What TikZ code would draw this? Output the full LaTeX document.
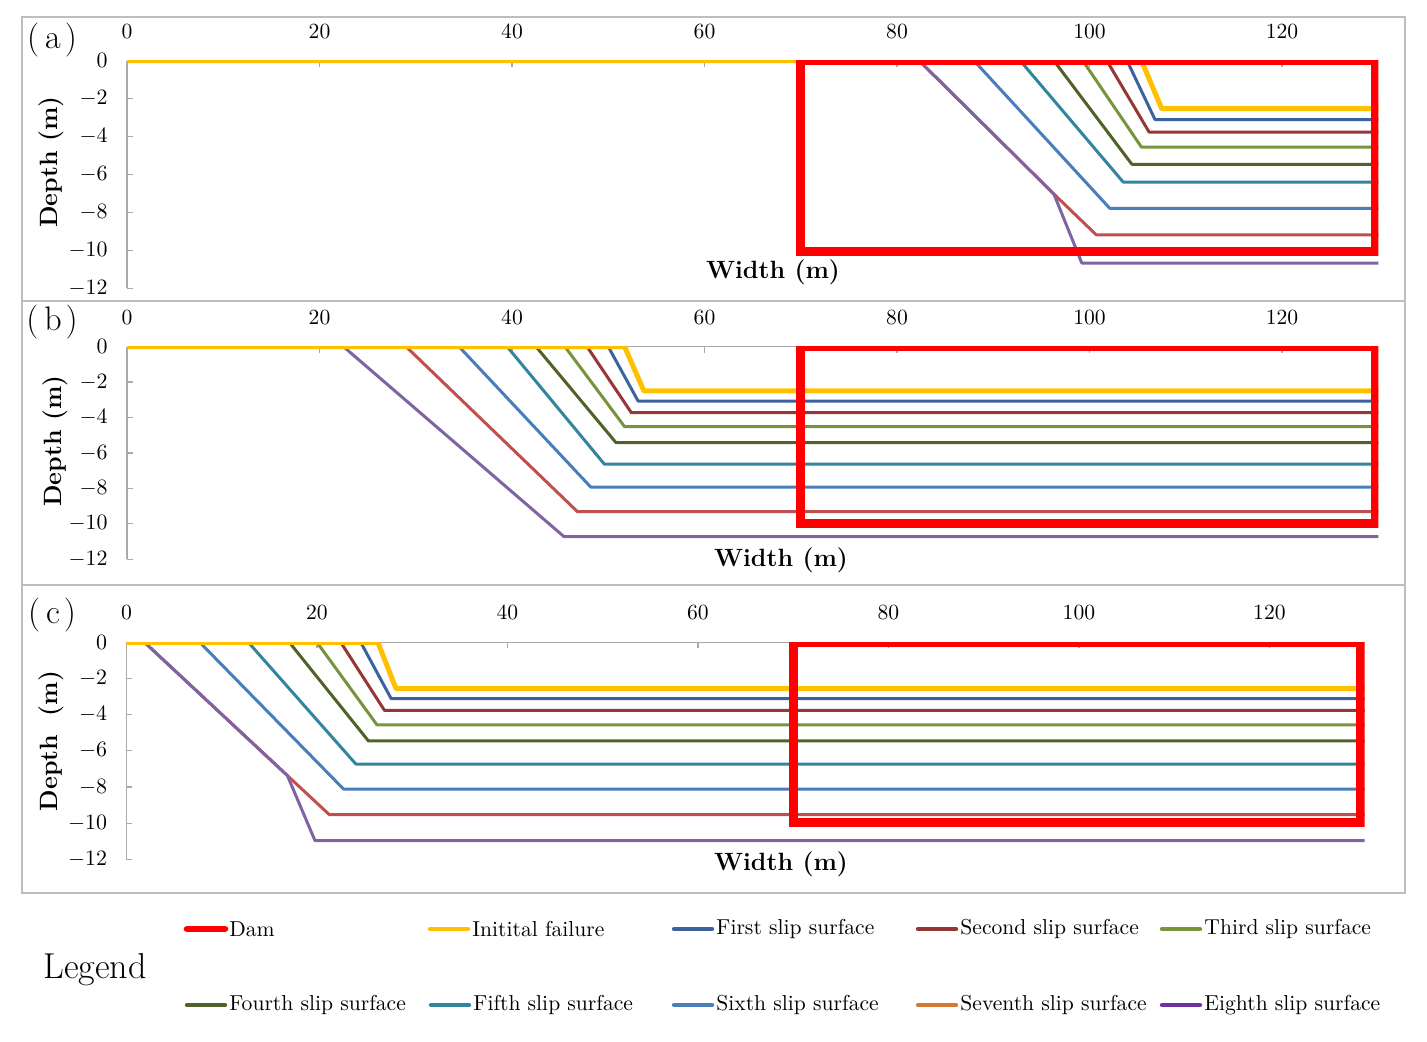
\documentclass[tikz,border=0pt]{standalone}
\usepackage{xcolor}
\definecolor{damred}{RGB}{255,0,0}
\definecolor{inityellow}{RGB}{255,192,0}
\definecolor{slipone}{RGB}{58,98,158}
\definecolor{sliptwo}{RGB}{150,55,53}
\definecolor{slipthree}{RGB}{119,147,60}
\definecolor{slipfour}{RGB}{79,98,40}
\definecolor{slipfive}{RGB}{49,133,156}
\definecolor{slipsix}{RGB}{74,126,187}
\definecolor{slipseven}{RGB}{192,80,77}
\definecolor{slipeight}{RGB}{128,100,162}
\definecolor{legseven}{RGB}{214,120,48}
\definecolor{legeight}{RGB}{112,48,160}
\definecolor{framegray}{RGB}{190,190,190}
\definecolor{axisgray}{RGB}{170,170,170}
\usepackage{tikz}
\usetikzlibrary{positioning}
\newcommand{\plotright}{130}
\newcommand{\plotaxes}[1]{%
    \draw[axisline] (0,0) -- (\plotright,0) (0,0) -- (0,-12);
    \foreach \xt in {0,20,...,120} {
        \draw[axisline] (\xt,0) -- ++(0,-3pt);
        \node[ticklabel, yshift=14.75pt] (#1x\xt) at (\xt,0) {\xt};
    }
    \foreach \yt in {0,-2,...,-12} {
        \draw[axisline] (0,\yt) -- ++(3pt,0);
        \node[ticklabel, anchor=east, xshift=-9.5pt] (#1y\yt) at (0,\yt) {$\yt$};
    }
}
\tikzset{
    panelframe/.style={draw=framegray, line width=0.75pt},
    axisline/.style={draw=axisgray, line width=0.6pt},
    ticklabel/.style={inner sep=0pt, font=\fontsize{10.8}{12}\selectfont},
    axistitle/.style={inner sep=0pt, font=\fontsize{12.5}{14}\selectfont\bfseries},
    panellabel/.style={inner sep=0pt, font=\fontsize{17}{19}\selectfont},
    slip/.style={line width=1.5pt, line join=round},
    initial/.style={slip, inityellow, line width=2.5pt},
    dam/.style={damred, line width=4.5pt, line join=miter},
    legtext/.style={anchor=west, inner sep=0pt, font=\fontsize{10.8}{12}\selectfont},
    legline/.style={line cap=round, line width=2.2pt},
    legtitle/.style={inner sep=0pt, font=\fontsize{18}{20}\selectfont}
}
\begin{document}
\begin{tikzpicture}[x=0.5pt, y=-0.5pt]
    \useasboundingbox (0,0) rectangle (1427,1042);
    % frames round the three panels
    \foreach \ptop/\pbot in {17/301, 301/585, 585/893}
        \draw[panelframe] (22,\ptop) rectangle (1405,\pbot);

    % (a)
    \begin{scope}[xshift=63.5pt, yshift=-30.35pt, x=4.8125pt, y=9.485pt]
        \plotaxes{a}
        \begin{scope}
            \clip (0,0) rectangle (\plotright,-12.5);
            \draw[slip, slipseven] (82.3,0) -- (96.3,-7.03) -- (100.7,-9.18) -- (\plotright,-9.18);
            \draw[slip, slipeight] (82.3,0) -- (96.3,-7.03) -- (99.2,-10.67) -- (\plotright,-10.67);
            \foreach \col/\xa/\xb/\dd in {slipsix/88.0/102.1/7.78, slipfive/92.8/103.5/6.4,
                slipfour/96.3/104.4/5.46, slipthree/99.3/105.4/4.56,
                sliptwo/101.8/106.2/3.77, slipone/103.9/106.8/3.1}
                \draw[slip, \col] (\xa,0) -- (\xb,-\dd) -- (\plotright,-\dd);
            \draw[initial] (0,0) -- (105.4,0) -- (107.5,-2.53) -- (\plotright,-2.53);
            \draw[dam] (70,0) rectangle (129.7,-10.05);
        \end{scope}
    \end{scope}

    % (b)
    \begin{scope}[xshift=63.5pt, yshift=-173.35pt, x=4.8125pt, y=8.85pt]
        \plotaxes{b}
        \begin{scope}
            \clip (0,0) rectangle (\plotright,-12.5);
            \foreach \col/\xa/\xb/\dd in {slipseven/29.0/46.8/9.32, slipeight/22.5/45.4/10.73,
                slipsix/34.5/48.2/7.94, slipfive/39.5/49.6/6.64,
                slipfour/42.5/50.8/5.42, slipthree/45.5/51.7/4.52,
                sliptwo/47.8/52.4/3.73, slipone/50.0/53.1/3.07}
                \draw[slip, \col] (\xa,0) -- (\xb,-\dd) -- (\plotright,-\dd);
            \draw[initial] (0,0) -- (51.7,0) -- (53.7,-2.5) -- (\plotright,-2.5);
            \draw[dam] (70,0) rectangle (129.7,-9.98);
        \end{scope}
    \end{scope}

    % (c)
    \begin{scope}[xshift=63.2pt, yshift=-321.15pt, x=4.7625pt, y=9.04pt]
        \plotaxes{c}
        \begin{scope}
            \clip (0,0) rectangle (\plotright,-12.5);
            \draw[slip, slipseven] (1.9,0) -- (16.9,-7.37) -- (21.3,-9.53) -- (\plotright,-9.53);
            \draw[slip, slipeight] (1.9,0) -- (16.9,-7.37) -- (19.8,-10.97) -- (\plotright,-10.97);
            \foreach \col/\xa/\xb/\dd in {slipsix/7.7/22.8/8.12, slipfive/12.8/24.1/6.74,
                slipfour/17.1/25.4/5.45, slipthree/20.0/26.3/4.56,
                sliptwo/22.5/27.1/3.77, slipone/24.6/27.8/3.12}
                \draw[slip, \col] (\xa,0) -- (\xb,-\dd) -- (\plotright,-\dd);
            \draw[initial] (0,0) -- (26.4,0) -- (28.3,-2.56) -- (\plotright,-2.56);
            \draw[dam] (70,0) rectangle (129.6,-9.98);
        \end{scope}
    \end{scope}

    % titles
    \node[panellabel] (alabel) at (52,40) {(\hspace{3pt}a\hspace{2pt})};
    \node[panellabel] (blabel) at (52,322) {(\hspace{3pt}b\hspace{2pt})};
    \node[panellabel] (clabel) at (52,615) {(\hspace{3pt}c\hspace{2pt})};
    \node[axistitle, rotate=90] (adepth) at (51,162) {Depth (m)};
    \node[axistitle, rotate=90] (bdepth) at (55,441) {Depth (m)};
    \node[axistitle, rotate=90] (cdepth) at (51,741) {Depth\ \ (m)};
    \node[axistitle] (awidth) at (773,272) {Width (m)};
    \node[axistitle] (bwidth) at (781,560) {Width (m)};
    \node[axistitle] (cwidth) at (781,864) {Width (m)};

    % legend
    \node[legtitle] (legendtitle) at (95,970) {Legend};
    \foreach \lx/\ly/\col/\lw/\txt [count=\i] in {
        229/929/damred/3.3pt/Dam,
        472/929/inityellow/2.2pt/Initital failure,
        716/929/slipone/2.2pt/First slip surface,
        960/929/sliptwo/2.2pt/Second slip surface,
        1204/929/slipthree/2.2pt/Third slip surface,
        229/1005/slipfour/2.2pt/Fourth slip surface,
        473/1005/slipfive/2.2pt/Fifth slip surface,
        716/1005/slipsix/2.2pt/Sixth slip surface,
        960/1005/legseven/2.2pt/Seventh slip surface,
        1204/1005/legeight/2.2pt/Eighth slip surface}
    {
        \node[legtext] (leg\i) at (\lx,\ly) {\txt};
        \draw[legline, \col, line width=\lw] (leg\i.west) ++(-4,0) -- ++(-38,0);
    }
\end{tikzpicture}
\end{document}
